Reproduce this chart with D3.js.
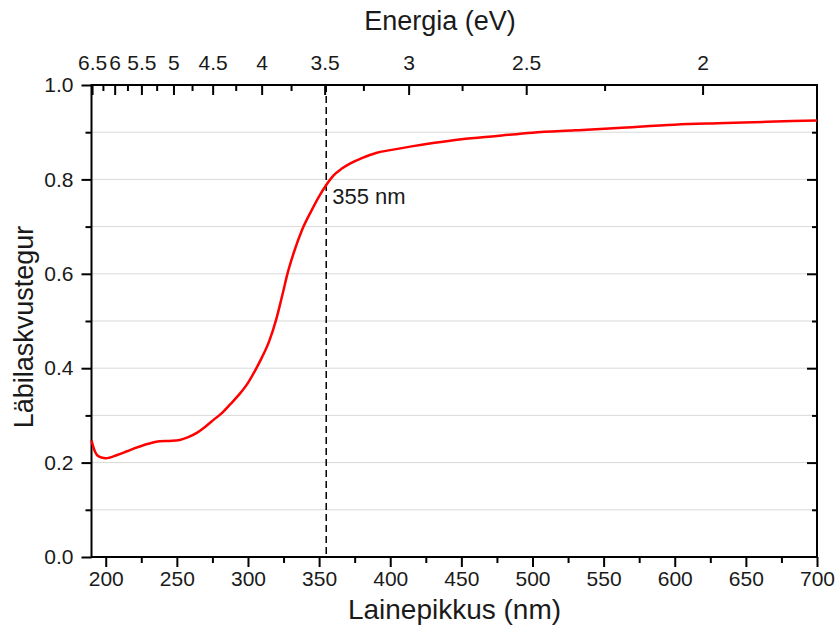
<!DOCTYPE html>
<html>
<head>
<meta charset="utf-8">
<script src="https://cdn.jsdelivr.net/npm/d3@7/dist/d3.min.js"></script>
<style>
  html, body { margin: 0; padding: 0; background: #fff; }
  svg { display: block; font-family: "Liberation Sans", Arial, sans-serif; }
</style>
</head>
<body>
<svg id="chart" width="839" height="635"></svg>
<script>
// ---- Data ----
const wavelength = [190, 191, 192.5, 195, 200, 208, 215, 220, 230, 238, 245, 252, 258, 264, 270, 276, 282, 288, 294, 300, 305, 310, 315, 320, 324, 328, 332, 338, 345, 350, 355, 360, 366, 372, 380, 390, 400, 415, 430, 450, 475, 500, 530, 560, 600, 630, 665, 700];
const transmission = [0.247, 0.236, 0.223, 0.213, 0.209, 0.216, 0.224, 0.230, 0.240, 0.245, 0.246, 0.248, 0.254, 0.263, 0.276, 0.291, 0.306, 0.325, 0.345, 0.369, 0.395, 0.424, 0.458, 0.505, 0.553, 0.603, 0.643, 0.693, 0.736, 0.764, 0.788, 0.808, 0.823, 0.834, 0.845, 0.856, 0.862, 0.870, 0.877, 0.885, 0.892, 0.899, 0.904, 0.909, 0.916, 0.919, 0.922, 0.925];

const xMajorTicks = [200, 250, 300, 350, 400, 450, 500, 550, 600, 650, 700];
const xMinorTicks = [225, 275, 325, 375, 425, 475, 525, 575, 625, 675];
const yMajorTicks = [0, 0.2, 0.4, 0.6, 0.8, 1.0];
const yMinorTicks = [0.1, 0.3, 0.5, 0.7, 0.9];
const yGridTicks = [0.1, 0.2, 0.3, 0.4, 0.5, 0.6, 0.7, 0.8, 0.9];
const energyMajorTicks = [6.5, 6, 5.5, 5, 4.5, 4, 3.5, 3, 2.5, 2];
const energyMinorTicks = [6.25, 5.75, 5.25, 4.75, 4.25, 3.75, 3.25, 2.75, 2.25];
const markerWavelength = 355;
const markerLabel = "355 nm";
const hc = 1239.84; // eV*nm

// ---- Layout ----
const L = 91.5, R = 817, T = 85, B = 557;
const tickFont = 21;
const svg = d3.select("#chart");
svg.append("rect").attr("width", 839).attr("height", 635).attr("fill", "#fff");

const x = d3.scaleLinear().domain([190, 700]).range([L, R]);
const y = d3.scaleLinear().domain([0, 1]).range([B, T]);

// gridlines
svg.append("g").selectAll("line").data(yGridTicks).join("line")
  .attr("x1", L).attr("x2", R)
  .attr("y1", d => y(d)).attr("y2", d => y(d))
  .attr("stroke", "#d9d9d9").attr("stroke-width", 1);

function styleAxis(g, w) {
  g.select(".domain").remove();
  g.selectAll(".tick line").attr("stroke", "#000").attr("stroke-width", w || 2);
  g.selectAll(".tick text").attr("fill", "#1a1a1a").attr("font-size", tickFont)
    .attr("font-family", "'Liberation Sans', Arial, sans-serif");
}

// bottom axis
const gb = svg.append("g").attr("transform", `translate(0,${B})`)
  .call(d3.axisBottom(x).tickValues(xMajorTicks).tickSize(10).tickSizeOuter(0).tickPadding(4).tickFormat(d3.format("d")));
styleAxis(gb);
const gbm = svg.append("g").attr("transform", `translate(0,${B})`)
  .call(d3.axisBottom(x).tickValues(xMinorTicks).tickSize(6).tickSizeOuter(0).tickFormat(""));
styleAxis(gbm);

// left axis
const gl = svg.append("g").attr("transform", `translate(${L},0)`)
  .call(d3.axisLeft(y).tickValues(yMajorTicks).tickSize(10).tickSizeOuter(0).tickPadding(8).tickFormat(d3.format(".1f")));
styleAxis(gl);
const glm = svg.append("g").attr("transform", `translate(${L},0)`)
  .call(d3.axisLeft(y).tickValues(yMinorTicks).tickSize(6).tickSizeOuter(0).tickFormat(""));
styleAxis(glm);

// right axis (inward ticks)
const gr = svg.append("g").attr("transform", `translate(${R},0)`)
  .call(d3.axisRight(y).tickValues(yMajorTicks.filter(d => d > 0 && d < 1)).tickSize(-10).tickSizeOuter(0).tickFormat(""));
styleAxis(gr);
const grm = svg.append("g").attr("transform", `translate(${R},0)`)
  .call(d3.axisRight(y).tickValues(yMinorTicks).tickSize(-5).tickSizeOuter(0).tickFormat(""));
styleAxis(grm);

// top axis: energy (inward ticks)
const eX = e => x(hc / e);
const topAxis = svg.append("g");
topAxis.selectAll("line.maj").data(energyMajorTicks).join("line").attr("class", "maj")
  .attr("x1", eX).attr("x2", eX).attr("y1", T).attr("y2", T + 10)
  .attr("stroke", "#000").attr("stroke-width", 2);
topAxis.selectAll("line.min").data(energyMinorTicks).join("line").attr("class", "min")
  .attr("x1", eX).attr("x2", eX).attr("y1", T).attr("y2", T + 6)
  .attr("stroke", "#000").attr("stroke-width", 2);
topAxis.selectAll("text").data(energyMajorTicks).join("text")
  .attr("x", eX).attr("y", T - 15)
  .attr("text-anchor", "middle").attr("font-size", tickFont).attr("fill", "#1a1a1a")
  .text(d => String(d));

// frame
svg.append("rect").attr("x", L).attr("y", T).attr("width", R - L).attr("height", B - T)
  .attr("fill", "none").attr("stroke", "#000").attr("stroke-width", 2);

// dashed marker
svg.append("line")
  .attr("x1", x(markerWavelength)).attr("x2", x(markerWavelength))
  .attr("y1", T).attr("y2", B)
  .attr("stroke", "#000").attr("stroke-width", 1.5).attr("stroke-dasharray", "7,4");

// curve
const line = d3.line().x((d, i) => x(wavelength[i])).y(d => y(d)).curve(d3.curveMonotoneX);
svg.append("path").datum(transmission).attr("d", line)
  .attr("fill", "none").attr("stroke", "#ff0000").attr("stroke-width", 2.5)
  .attr("stroke-linejoin", "round");

// annotation
svg.append("text").attr("x", x(markerWavelength) + 6).attr("y", 204)
  .attr("font-size", 22).attr("fill", "#1a1a1a").text(markerLabel);

// titles
svg.append("text").attr("x", 440).attr("y", 30).attr("text-anchor", "middle")
  .attr("font-size", 27).attr("fill", "#1a1a1a").text("Energia (eV)");
svg.append("text").attr("x", 454.5).attr("y", 619).attr("text-anchor", "middle")
  .attr("font-size", 28).attr("fill", "#1a1a1a").text("Lainepikkus (nm)");
svg.append("text").attr("transform", "translate(33,327) rotate(-90)").attr("text-anchor", "middle")
  .attr("font-size", 27).attr("fill", "#1a1a1a").text("Läbilaskvustegur");
</script>
</body>
</html>
